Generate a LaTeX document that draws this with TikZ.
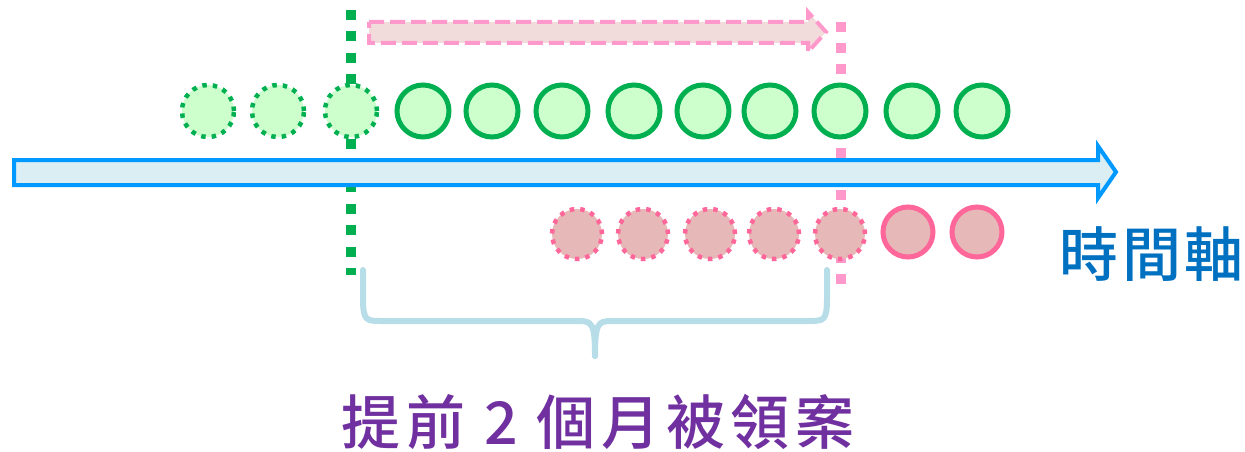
\documentclass[tikz,border=0pt]{standalone}
\usepackage{fontspec}
\newfontfamily\cjk{Noto Sans CJK TC Medium}[LetterSpace=6]
\newfontfamily\cjkwide{Noto Sans CJK TC Medium}[LetterSpace=9.5]
\definecolor{gline}{HTML}{00B050}
\definecolor{gfill}{HTML}{CCFFCC}
\definecolor{pline}{HTML}{FF6699}
\definecolor{pfill}{HTML}{E6B9B8}
\definecolor{plight}{HTML}{FF99CC}
\definecolor{pafill}{HTML}{F2DCDB}
\definecolor{bline}{HTML}{0099FF}
\definecolor{bfill}{HTML}{DAEEF3}
\definecolor{brace}{HTML}{B7DDE8}
\definecolor{tblue}{HTML}{0070C0}
\definecolor{tpurple}{HTML}{7030A0}
\tikzset{
  gsolid/.style={circle, draw=gline, fill=gfill, line width=5pt, minimum size=52pt, inner sep=0pt},
  gdot/.style={circle, draw=gline, fill=gfill, line width=4.5pt, dash pattern=on 4.5pt off 6pt, minimum size=52pt, inner sep=0pt},
  psolid/.style={circle, draw=pline, fill=pfill, line width=5pt, minimum size=50pt, inner sep=0pt},
  pdot/.style={circle, draw=pline, fill=pfill, line width=4.5pt, dash pattern=on 4.5pt off 6pt, minimum size=50pt, inner sep=0pt},
  vgreen/.style={draw=gline, line width=10pt, dash pattern=on 10pt off 11.5pt},
  vpink/.style={draw=plight, line width=10pt, dash pattern=on 10pt off 11pt},
  lbl/.style={font=\cjk\fontsize{59pt}{60pt}\selectfont, inner sep=0pt},
  lblwide/.style={font=\cjkwide\fontsize{59pt}{60pt}\selectfont, inner sep=0pt}
}
\begin{document}
\begin{tikzpicture}[x=1pt,y=-1pt]
\useasboundingbox (0,0) rectangle (1245,452);
% vertical markers
\coordinate (gtop) at (351,10);
\coordinate (gbot) at (351,275);
\coordinate (ptop) at (841,22);
\coordinate (pbot) at (841,290);
\draw[vgreen] (gtop) -- (gbot);
\draw[vpink] (ptop) -- (pbot);
% pink dashed arrow
\draw[draw=plight, fill=pafill, line width=4pt, dash pattern=on 15pt off 6pt, line join=miter]
  (369,22) -- (808,22) -- (808,12) -- (826,32) -- (808,52) -- (808,43) -- (369,43) -- cycle;
% blue time arrow
\draw[draw=bline, fill=bfill, line width=4pt, line join=miter]
  (14,160) -- (1098,160) -- (1098,146) -- (1116,172) -- (1098,198) -- (1098,185) -- (14,185) -- cycle;
% green circles
\foreach \x [count=\i] in {208,278,351} \node[gdot] (gd\i) at (\x,111) {};
\foreach \x [count=\i] in {423,492,562,634,703,770,840,912,982} \node[gsolid] (gs\i) at (\x,111) {};
% pink circles
\foreach \x [count=\i] in {577,643,710,774,840} \node[pdot] (pd\i) at (\x,234) {};
\foreach \x [count=\i] in {908,977} \node[psolid] (ps\i) at (\x,232) {};
% brace
\draw[brace, line width=6pt, line cap=round, line join=round]
  (363,270) -- (363,298) .. controls (363,321) and (366,321) .. (382,321) -- (578,321)
  .. controls (592,321) and (595,323) .. (595,356);
\draw[brace, line width=6pt, line cap=round, line join=round]
  (827,270) -- (827,298) .. controls (827,321) and (824,321) .. (808,321) -- (612,321)
  .. controls (598,321) and (595,323) .. (595,356);
% labels
\node[lbl, text=tblue, anchor=center] (axis) at (1152,254) {時間軸};
\node[lblwide, text=tpurple, anchor=center] (note) at (598,422) {提前 2 個月被領案};
\end{tikzpicture}
\end{document}
